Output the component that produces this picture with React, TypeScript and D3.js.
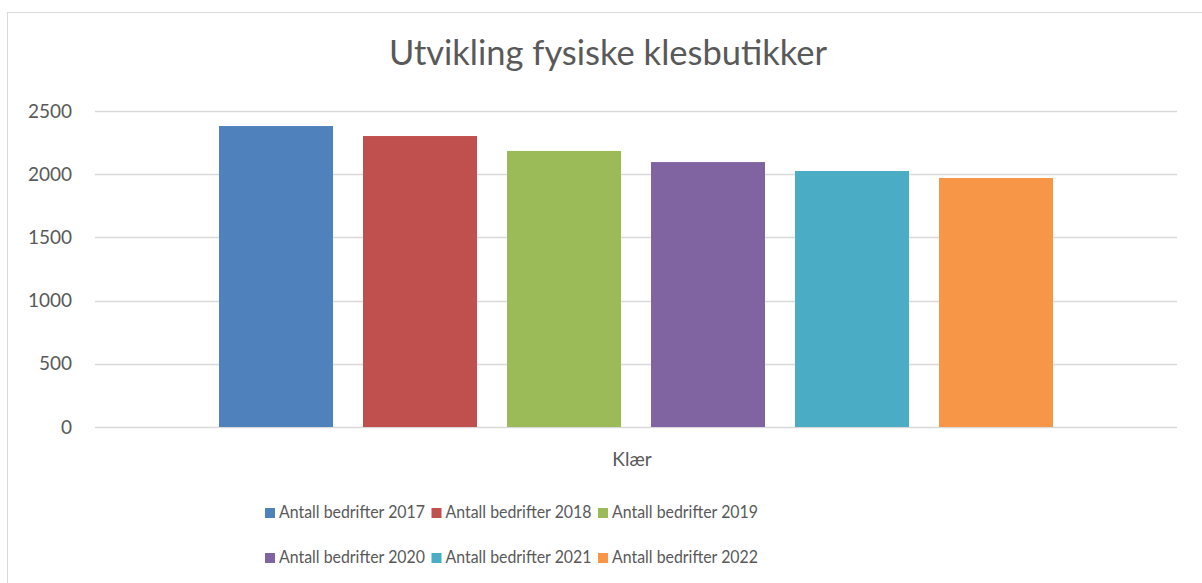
import React from "react";
import * as d3 from "d3";

const categories = ["Klær"];
const seriesNames = [
  "Antall bedrifter 2017",
  "Antall bedrifter 2018",
  "Antall bedrifter 2019",
  "Antall bedrifter 2020",
  "Antall bedrifter 2021",
  "Antall bedrifter 2022",
];
const seriesValues = [2381, 2302, 2184, 2096, 2025, 1970];
const seriesColors = ["#4F81BD", "#C0504D", "#9BBB59", "#8064A2", "#4BACC6", "#F79646"];
const yTicks = [0, 500, 1000, 1500, 2000, 2500];
const title = "Utvikling fysiske klesbutikker";

const W = 1202;
const H = 583;
const FONT = "Lato, 'Open Sans', sans-serif";
const TEXT = "#595959";

export default function App() {
  const plotLeft = 95;
  const plotRight = 1177;
  const plotTop = 111;
  const plotBottom = 427;

  const y = d3.scaleLinear().domain([0, 2500]).range([plotBottom, plotTop]);
  const x0 = d3.scaleBand<string>().domain(categories).range([plotLeft, plotRight]);
  const groupInset = 109;
  const x1 = d3
    .scaleBand<string>()
    .domain(seriesNames)
    .range([groupInset, x0.bandwidth() - groupInset])
    .paddingInner(0.2083)
    .paddingOuter(0.1042);

  const legendX0 = 265;
  const legendStep = 166.5;
  const legendRows = [518, 563];

  return (
    <svg
      width={W}
      height={H}
      style={{ position: "fixed", left: 0, top: 0, background: "#fff" }}
      fontFamily={FONT}
    >
      <rect x={7.5} y={12.5} width={W} height={H} fill="#fff" stroke="#d9d9d9" strokeWidth={1} />
      <text x={608} y={65} textAnchor="middle" fontSize={34.5} fill={TEXT}>
        {title}
      </text>
      {yTicks.map((t) => (
        <g key={t}>
          <line
            x1={plotLeft}
            x2={plotRight}
            y1={Math.round(y(t)) + 0.5}
            y2={Math.round(y(t)) + 0.5}
            stroke="#d9d9d9"
            strokeWidth={1.5}
          />
          <text x={72} y={y(t) + 6.5} textAnchor="end" fontSize={19} fill={TEXT}>
            {t}
          </text>
        </g>
      ))}
      {categories.map((c) => (
        <g key={c} transform={`translate(${x0(c)},0)`}>
          {seriesNames.map((s, i) => (
            <rect
              key={s}
              x={x1(s)}
              y={y(seriesValues[i])}
              width={x1.bandwidth()}
              height={y(0) - y(seriesValues[i])}
              fill={seriesColors[i]}
            />
          ))}
          <text
            x={x0.bandwidth() / 2 - 4}
            y={466}
            textAnchor="middle"
            fontSize={19}
            fill={TEXT}
          >
            {c}
          </text>
        </g>
      ))}
      {seriesNames.map((s, i) => {
        const col = i % 3;
        const row = Math.floor(i / 3);
        const lx = legendX0 + col * legendStep;
        const ly = legendRows[row];
        return (
          <g key={s}>
            <rect x={lx} y={ly - 10} width={10} height={10} fill={seriesColors[i]} />
            <text
              x={lx + 14}
              y={ly}
              fontSize={18}
              fill={TEXT}
              textLength={146}
              lengthAdjust="spacingAndGlyphs"
            >
              {s}
            </text>
          </g>
        );
      })}
    </svg>
  );
}
